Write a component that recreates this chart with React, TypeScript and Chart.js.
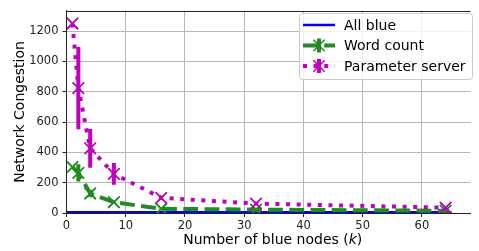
import React, { useEffect, useRef } from 'react';
import { Chart, registerables } from 'chart.js';
Chart.register(...registerables);

const xValues = [1, 2, 4, 8, 16, 32, 64];
const allBlueX = [0, 65];
const allBlue = [5, 5];
const wordCount = [303, 265, 129, 71, 28, 22, 15];
const wordCountErr = [0, 57, 25, 8, 4, 2, 2];
const paramServer = [1250, 824, 426, 258, 100, 62, 35];
const paramServerErr = [0, 271, 128, 71, 14, 4, 3];
const xTicks = [0, 10, 20, 30, 40, 50, 60];
const yTicks = [0, 200, 400, 600, 800, 1000, 1200];
const seriesLabels = ['All blue', 'Word count', 'Parameter server'];
const xTitleParts = ['Number of blue nodes (', 'k', ')'];
const yTitle = 'Network Congestion';

const FONT = "'DejaVu Sans', sans-serif";
const BLUE = '#0000ff';
const GREEN = '#228b22';
const MAGENTA = '#bf00bf';

function drawCrossRot(ctx: CanvasRenderingContext2D, x: number, y: number, r: number, color: string, w: number) {
  const o = Math.cos(Math.PI / 4) * r;
  ctx.save();
  ctx.strokeStyle = color;
  ctx.lineWidth = w;
  ctx.setLineDash([]);
  ctx.beginPath();
  ctx.moveTo(x - o, y - o);
  ctx.lineTo(x + o, y + o);
  ctx.moveTo(x - o, y + o);
  ctx.lineTo(x + o, y - o);
  ctx.stroke();
  ctx.restore();
}

const errorBarPlugin = {
  id: 'errorBars',
  afterDatasetDraw(chart: any, args: any) {
    const ds = chart.data.datasets[args.index];
    if (!ds.errors) return;
    const ctx = chart.ctx;
    const ys = chart.scales.y;
    const area = chart.chartArea;
    ctx.save();
    ctx.beginPath();
    ctx.rect(area.left, area.top, area.right - area.left, area.bottom - area.top);
    ctx.clip();
    ctx.strokeStyle = ds.borderColor;
    ctx.lineWidth = 4;
    ctx.lineCap = 'butt';
    ctx.setLineDash([]);
    args.meta.data.forEach((pt: any, i: number) => {
      const e = ds.errors[i];
      if (!e) return;
      const v = ds.data[i].y;
      ctx.beginPath();
      ctx.moveTo(pt.x, ys.getPixelForValue(v - e));
      ctx.lineTo(pt.x, ys.getPixelForValue(v + e));
      ctx.stroke();
    });
    args.meta.data.forEach((pt: any) => {
      drawCrossRot(ctx, pt.x, pt.y, ds.pointRadius, ds.borderColor, ds.pointBorderWidth);
    });
    ctx.restore();
  },
};

const decorPlugin = {
  id: 'decor',
  afterDraw(chart: any) {
    const ctx = chart.ctx;
    const a = chart.chartArea;
    ctx.save();
    ctx.strokeStyle = '#222';
    ctx.lineWidth = 1;
    ctx.beginPath();
    ctx.moveTo(a.left, Math.round(a.top) + 0.5);
    ctx.lineTo(a.right, Math.round(a.top) + 0.5);
    ctx.stroke();

    const fN = `14px ${FONT}`;
    const fI = `italic 14px ${FONT}`;
    ctx.font = fN;
    const w0 = ctx.measureText(xTitleParts[0]).width;
    const w2 = ctx.measureText(xTitleParts[2]).width;
    ctx.font = fI;
    const w1 = ctx.measureText(xTitleParts[1]).width;
    const total = w0 + w1 + w2;
    let x = (a.left + 479) / 2 - total / 2;
    const y = 244;
    ctx.fillStyle = '#000';
    ctx.textBaseline = 'alphabetic';
    ctx.textAlign = 'left';
    ctx.font = fN;
    ctx.fillText(xTitleParts[0], x, y);
    x += w0;
    ctx.font = fI;
    ctx.fillText(xTitleParts[1], x, y);
    x += w1;
    ctx.font = fN;
    ctx.fillText(xTitleParts[2], x, y);

    const bx = 299.5, by = 13.5, bw = 173, bh = 66;
    ctx.beginPath();
    (ctx as any).roundRect(bx, by, bw, bh, 3);
    ctx.fillStyle = 'rgba(255,255,255,0.8)';
    ctx.fill();
    ctx.strokeStyle = '#cccccc';
    ctx.lineWidth = 1;
    ctx.stroke();
    const rowsY = [25, 45.5, 66];
    const x0 = 303, x1 = 335, xm = 319;
    chart.data.datasets.forEach((ds: any, i: number) => {
      const ry = rowsY[i];
      ctx.strokeStyle = ds.borderColor;
      ctx.lineWidth = ds.borderWidth;
      ctx.lineCap = 'butt';
      ctx.setLineDash(ds.borderDash || []);
      ctx.beginPath();
      ctx.moveTo(x0, ry);
      ctx.lineTo(x1, ry);
      ctx.stroke();
      ctx.setLineDash([]);
      if (ds.errors) {
        ctx.lineWidth = 4;
        ctx.beginPath();
        ctx.moveTo(xm, ry - 7);
        ctx.lineTo(xm, ry + 7);
        ctx.stroke();
        drawCrossRot(ctx, xm, ry, ds.pointRadius, ds.borderColor, ds.pointBorderWidth);
      }
      ctx.fillStyle = '#000';
      ctx.font = `14px ${FONT}`;
      ctx.textBaseline = 'middle';
      ctx.fillText(ds.label, 344, ry + 1);
    });
    ctx.restore();
  },
};

export default function App() {
  const ref = useRef<HTMLCanvasElement>(null);
  useEffect(() => {
    if (!ref.current) return;
    const chart = new Chart(ref.current, {
      type: 'line',
      data: {
        datasets: [
          {
            label: seriesLabels[0],
            data: allBlueX.map((x, i) => ({ x, y: allBlue[i] })),
            borderColor: BLUE,
            backgroundColor: BLUE,
            borderWidth: 2.5,
            pointRadius: 0,
            order: 3,
          } as any,
          {
            label: seriesLabels[1],
            data: xValues.map((x, i) => ({ x, y: wordCount[i] })),
            errors: wordCountErr,
            borderColor: GREEN,
            backgroundColor: GREEN,
            borderWidth: 4,
            borderDash: [14.8, 6.4],
            borderCapStyle: 'butt',
            pointStyle: 'crossRot',
            pointRadius: 8,
            pointBorderWidth: 1.5,
            pointBorderColor: GREEN,
            order: 2,
          } as any,
          {
            label: seriesLabels[2],
            data: xValues.map((x, i) => ({ x, y: paramServer[i] })),
            errors: paramServerErr,
            borderColor: MAGENTA,
            backgroundColor: MAGENTA,
            borderWidth: 4,
            borderDash: [4, 6.6],
            borderCapStyle: 'butt',
            pointStyle: 'crossRot',
            pointRadius: 8,
            pointBorderWidth: 1.5,
            pointBorderColor: MAGENTA,
            order: 1,
          } as any,
        ],
      },
      options: {
        animation: false,
        responsive: false,
        maintainAspectRatio: false,
        layout: { padding: { top: 6, left: 0, right: 0, bottom: 0 } },
        plugins: { legend: { display: false }, tooltip: { enabled: false } },
        scales: {
          x: {
            type: 'linear',
            min: 0,
            max: 68.2,
            afterBuildTicks: (s: any) => {
              s.ticks = xTicks.map((v) => ({ value: v }));
            },
            afterFit: (s: any) => {
              s.height = 38;
            },
            ticks: {
              color: '#222',
              font: { family: FONT, size: 11.5 },
              padding: 2,
              maxRotation: 0,
              callback: (v: any) => String(v),
            },
            grid: { color: '#b8b8b8', lineWidth: 1, tickColor: '#222', tickLength: 4 },
            border: { display: true, color: '#222', width: 1 },
          },
          y: {
            type: 'linear',
            min: 0,
            max: 1333,
            afterBuildTicks: (s: any) => {
              s.ticks = yTicks.map((v) => ({ value: v }));
            },
            afterFit: (s: any) => {
              s.width = 66.5;
            },
            ticks: {
              color: '#222',
              font: { family: FONT, size: 11.5 },
              padding: 4,
              callback: (v: any) => String(v),
            },
            title: {
              display: true,
              text: yTitle,
              color: '#000',
              font: { family: FONT, size: 14 },
              padding: { top: 12, bottom: 0 },
            },
            grid: { color: '#b8b8b8', lineWidth: 1, tickColor: '#222', tickLength: 4 },
            border: { display: true, color: '#222', width: 1 },
          },
        },
      },
      plugins: [errorBarPlugin, decorPlugin],
    } as any);
    return () => chart.destroy();
  }, []);
  return (
    <div style={{ position: 'fixed', left: 0, top: 0, width: 479, height: 251, overflow: 'hidden', background: '#fff' }}>
      <canvas ref={ref} width={480} height={251} style={{ width: 480, height: 251, display: 'block' }} />
    </div>
  );
}
